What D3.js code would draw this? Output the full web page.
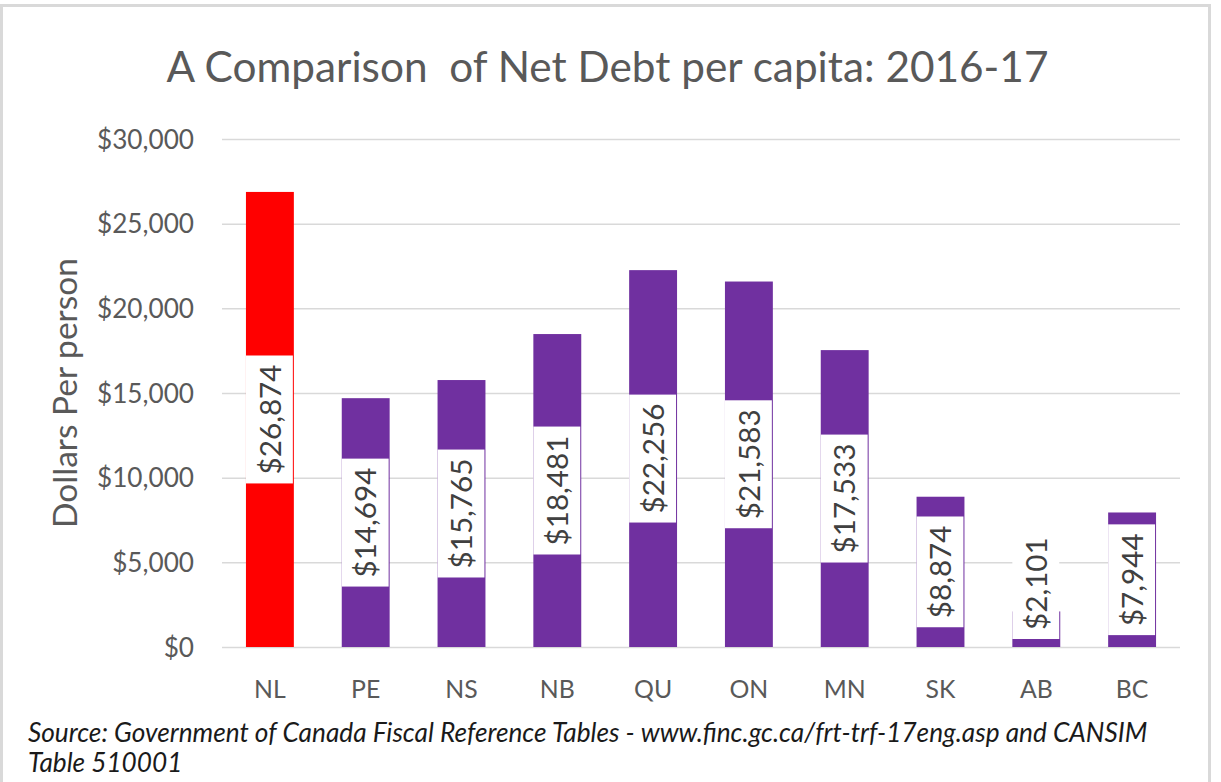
<!DOCTYPE html>
<html>
<head>
<meta charset="utf-8">
<script src="https://cdn.jsdelivr.net/npm/d3@7"></script>
<style>
  html, body { margin: 0; padding: 0; background: #ffffff; }
  svg { display: block; }
</style>
</head>
<body>
<svg id="chart" width="1221" height="782"></svg>
<script>
// ---- data ----
const provinces = ["NL", "PE", "NS", "NB", "QU", "ON", "MN", "SK", "AB", "BC"];
const netDebtPerCapita = [26874, 14694, 15765, 18481, 22256, 21583, 17533, 8874, 2101, 7944];
const yTicks = [0, 5000, 10000, 15000, 20000, 25000, 30000];
const highlighted = ["NL"];
const titleText = "A Comparison\u00a0 of Net Debt per capita: 2016-17";
const yAxisTitle = "Dollars Per person";
const sourceLines = [
  "Source: Government of Canada Fiscal Reference Tables - www.finc.gc.ca/frt-trf-17eng.asp and CANSIM",
  "Table 510001"
];

// ---- setup ----
const svg = d3.select("#chart");
const FONT = "Lato, 'Open Sans', 'DejaVu Sans', sans-serif";
const fmt = v => "$" + d3.format(",")(v);

// helper: font size so that a string has a given width
function fitSize(str, targetWidth, italic) {
  const t = svg.append("text").attr("font-family", FONT).attr("font-size", 100)
    .attr("font-style", italic ? "italic" : "normal").text(str);
  const w = t.node().getComputedTextLength();
  t.remove();
  return 100 * targetWidth / w;
}

const tickSize = fitSize("$30,000", 97);
const labelSize = fitSize("$26,874", 110);
const xSize = fitSize("MN", 42);
const axisTitleSize = fitSize(yAxisTitle, 270);
const titleSize = fitSize(titleText, 882);
const sourceSize = fitSize(sourceLines[0], 1120, true);

// frame
svg.append("rect").attr("x", 1.5).attr("y", 5.5).attr("width", 1208).attr("height", 790)
  .attr("fill", "#ffffff").attr("stroke", "#d9d9d9").attr("stroke-width", 3);

const x = d3.scaleBand().domain(provinces).range([222, 1180]).paddingInner(0.5).paddingOuter(0.25);
const y = d3.scaleLinear().domain([0, 30000]).range([647, 139]);

// title
svg.append("text").attr("x", (165 + 1050) / 2).attr("y", 82)
  .attr("text-anchor", "middle").attr("font-family", FONT).attr("font-size", titleSize)
  .attr("fill", "#595959").text(titleText);

// gridlines
const yAxis = d3.axisLeft(y).tickValues(yTicks).tickFormat(fmt)
  .tickSize(-(1180 - 222)).tickPadding(28);
const gy = svg.append("g").attr("transform", "translate(222,0)").call(yAxis);
gy.select(".domain").remove();
gy.selectAll(".tick line").attr("stroke", "#d9d9d9").attr("stroke-width", 1.5);
gy.selectAll(".tick text").attr("font-family", FONT).attr("font-size", tickSize)
  .attr("fill", "#595959").attr("dy", "0.35em");

// y axis title
svg.append("text").attr("transform", `translate(77,${(139 + 647) / 2}) rotate(-90)`)
  .attr("text-anchor", "middle").attr("font-family", FONT).attr("font-size", axisTitleSize)
  .attr("fill", "#595959").text(yAxisTitle);

// x axis labels
const xAxis = d3.axisBottom(x).tickSize(0).tickPadding(0);
const gx = svg.append("g").attr("transform", "translate(0,647)").call(xAxis);
gx.select(".domain").remove();
gx.selectAll(".tick text").attr("font-family", FONT).attr("font-size", xSize)
  .attr("fill", "#595959").attr("dy", 0).attr("y", 51);

// bars
const data = provinces.map((p, i) => ({ p, v: netDebtPerCapita[i] }));
svg.append("g").selectAll("rect").data(data).join("rect")
  .attr("x", d => x(d.p)).attr("width", x.bandwidth())
  .attr("y", d => y(d.v)).attr("height", d => y(0) - y(d.v))
  .attr("fill", d => highlighted.includes(d.p) ? "#ff0000" : "#7030a0");

// data labels (rotated, white box, centered)
const lg = svg.append("g");
data.forEach(d => {
  const cx = x(d.p) + x.bandwidth() / 2;
  const g = lg.append("g");
  const t = g.append("text").attr("font-family", FONT).attr("font-size", labelSize)
    .attr("fill", "#404040").attr("text-anchor", "middle").text(fmt(d.v));
  const len = t.node().getComputedTextLength();
  const boxH = len + 18;
  let cy = y(d.v / 2);
  const maxBottom = y(0) - 8;
  if (cy + boxH / 2 > maxBottom) cy = maxBottom - boxH / 2;
  g.insert("rect", "text").attr("x", cx - x.bandwidth() / 2).attr("width", x.bandwidth() - 1)
    .attr("y", cy - boxH / 2).attr("height", boxH).attr("fill", "#ffffff");
  t.attr("transform", `translate(${cx},${cy}) rotate(-90)`).attr("dy", "0.36em");
});

// source
sourceLines.forEach((s, i) => {
  svg.append("text").attr("x", 28).attr("y", 742 + i * 30)
    .attr("font-family", FONT).attr("font-style", "italic").attr("font-size", sourceSize)
    .attr("fill", "#1a1a1a").text(s);
});
</script>
</body>
</html>
